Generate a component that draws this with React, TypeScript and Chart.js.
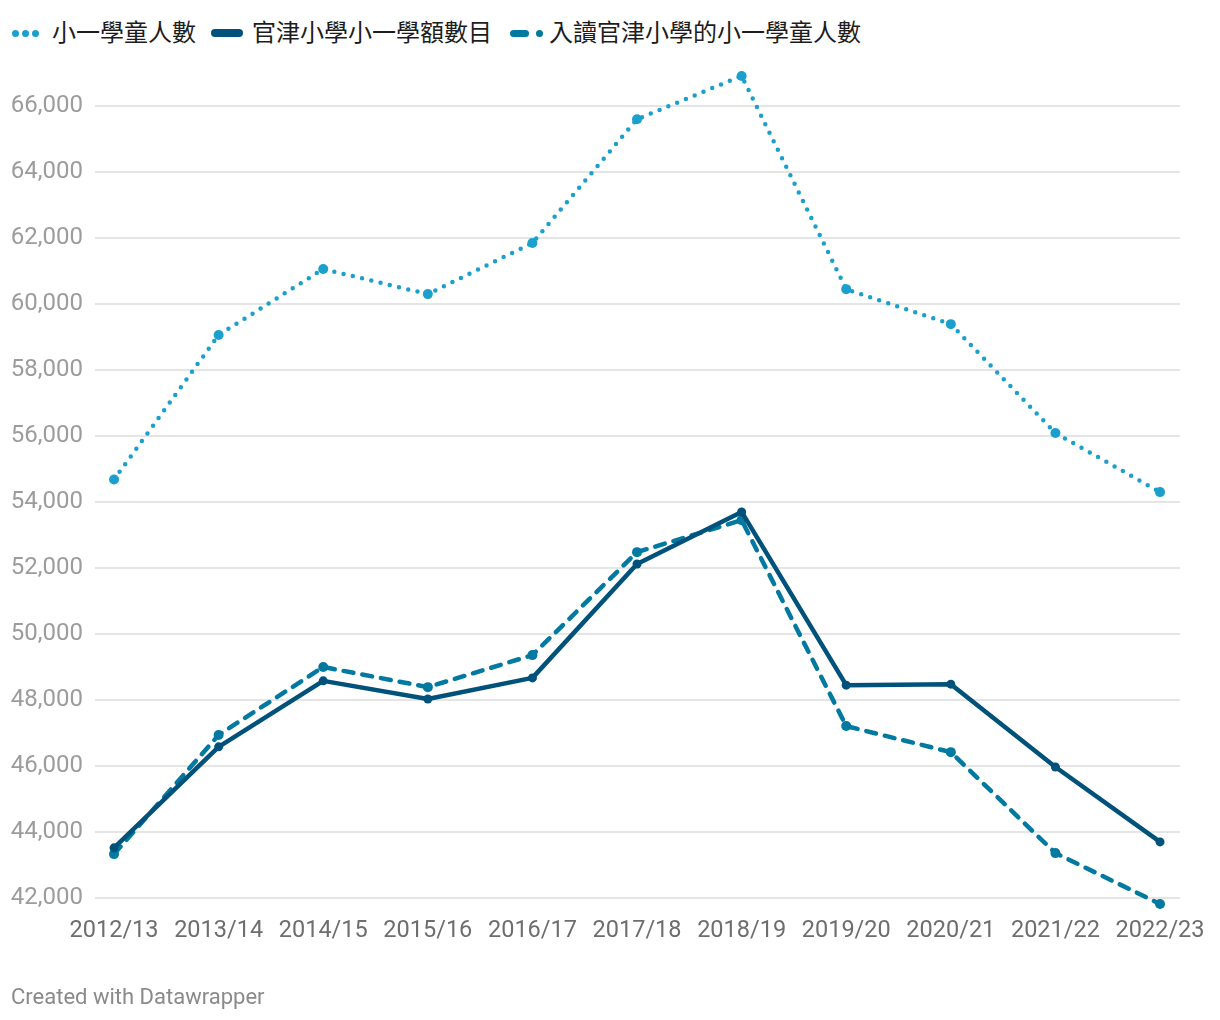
import React, { useEffect, useRef } from "react";
import { Chart, registerables } from "chart.js";

Chart.register(...registerables);

const years = ["2012/13", "2013/14", "2014/15", "2015/16", "2016/17", "2017/18", "2018/19", "2019/20", "2020/21", "2021/22", "2022/23"];
const p1Pupils = [54680, 59060, 61060, 60300, 61850, 65600, 66910, 60450, 59390, 56090, 54300];
const aidedP1Places = [43520, 46580, 48580, 48030, 48670, 52120, 53700, 48450, 48480, 45970, 43700];
const aidedP1Admitted = [43330, 46940, 49000, 48390, 49360, 52480, 53450, 47210, 46420, 43360, 41820];
const yTickValues = [42000, 44000, 46000, 48000, 50000, 52000, 54000, 56000, 58000, 60000, 62000, 64000, 66000];
const seriesNames = ["小一學童人數", "官津小學小一學額數目", "入讀官津小學的小一學童人數"];

const C_LIGHT = "#1ba0cd";
const C_DARK = "#00527a";
const C_MID = "#0279a0";
const FONT = 'Roboto, "Noto Sans CJK TC", sans-serif';

export default function App() {
  const ref = useRef<HTMLCanvasElement | null>(null);

  useEffect(() => {
    if (!ref.current) return;
    const toPts = (arr: number[]) => arr.map((v, i) => ({ x: i, y: v }));
    const chart = new Chart(ref.current, {
      type: "line",
      data: {
        datasets: [
          {
            label: seriesNames[1],
            data: toPts(aidedP1Places),
            borderColor: C_DARK,
            backgroundColor: C_DARK,
            borderWidth: 4.5,
            pointRadius: 4.5,
            pointBorderWidth: 0,
            borderJoinStyle: "round",
            borderCapStyle: "round",
          },
          {
            label: seriesNames[2],
            data: toPts(aidedP1Admitted),
            borderColor: C_MID,
            backgroundColor: C_MID,
            borderWidth: 4.5,
            borderDash: [10, 9],
            borderCapStyle: "round",
            pointRadius: 5,
            pointBorderWidth: 0,
          },
          {
            label: seriesNames[0],
            data: toPts(p1Pupils),
            borderColor: C_LIGHT,
            backgroundColor: C_LIGHT,
            borderWidth: 4.5,
            borderDash: [0, 9.5],
            borderCapStyle: "round",
            pointRadius: 5,
            pointBorderWidth: 0,
          },
        ],
      },
      options: {
        animation: false,
        responsive: false,
        devicePixelRatio: 1,
        layout: { padding: { top: 64.75, right: 40, bottom: 68.8, left: 0 } },
        plugins: { legend: { display: false }, tooltip: { enabled: false } },
        scales: {
          x: {
            type: "linear",
            min: -0.182,
            max: 10.191,
            afterBuildTicks: (s: any) => {
              s.ticks = years.map((_, i) => ({ value: i }));
            },
            afterFit: (s: any) => {
              s.height = 40;
            },
            grid: { display: false, drawTicks: false },
            border: { display: false },
            ticks: {
              autoSkip: false,
              maxRotation: 0,
              padding: 6,
              color: "#6e6e6e",
              font: { family: FONT, size: 23.5 },
              callback: (v: any) => years[Math.round(Number(v))] ?? "",
            },
          },
          y: {
            min: 41600,
            max: 67250,
            afterBuildTicks: (s: any) => {
              s.ticks = yTickValues.map((v) => ({ value: v }));
            },
            afterFit: (s: any) => {
              s.width = 95;
            },
            grid: { color: "#e5e5e5", lineWidth: 2, drawTicks: false },
            border: { display: false },
            ticks: {
              padding: 12,
              color: "#9c9c9c",
              font: { family: FONT, size: 24 },
              callback: (v: any) => Number(v).toLocaleString("en-US"),
            },
          },
        },
      },
    } as any);
    return () => chart.destroy();
  }, []);

  const dot = (left: number, color: string, size = 7) => (
    <span
      style={{
        position: "absolute",
        left,
        top: 33 - size / 2,
        width: size,
        height: size,
        borderRadius: "50%",
        background: color,
      }}
    />
  );
  const text = (left: number, s: string) => (
    <span
      style={{
        position: "absolute",
        left,
        top: 18,
        fontFamily: FONT,
        fontSize: 24,
        lineHeight: "30px",
        color: "#1d1d1d",
        whiteSpace: "nowrap",
      }}
    >
      {s}
    </span>
  );

  return (
    <div style={{ position: "absolute", left: 0, top: 0, width: 1220, height: 1020, background: "#fff", overflow: "hidden" }}>
      {dot(12, C_LIGHT)}
      {dot(22, C_LIGHT)}
      {dot(32, C_LIGHT)}
      {text(52, seriesNames[0])}
      <span
        style={{ position: "absolute", left: 211, top: 29, width: 32, height: 8, borderRadius: 4, background: C_DARK }}
      />
      {text(252, seriesNames[1])}
      <span
        style={{ position: "absolute", left: 510, top: 29.5, width: 19, height: 7, borderRadius: 3.5, background: C_MID }}
      />
      {dot(536, C_MID)}
      {text(549, seriesNames[2])}
      <canvas ref={ref} width={1220} height={1020} style={{ position: "absolute", left: 0, top: 0, width: 1220, height: 1020 }} />
      <div
        style={{
          position: "absolute",
          left: 11,
          top: 983,
          fontFamily: FONT,
          fontSize: 22,
          lineHeight: "28px",
          color: "#8a8a8a",
          whiteSpace: "nowrap",
        }}
      >
        Created with Datawrapper
      </div>
    </div>
  );
}
